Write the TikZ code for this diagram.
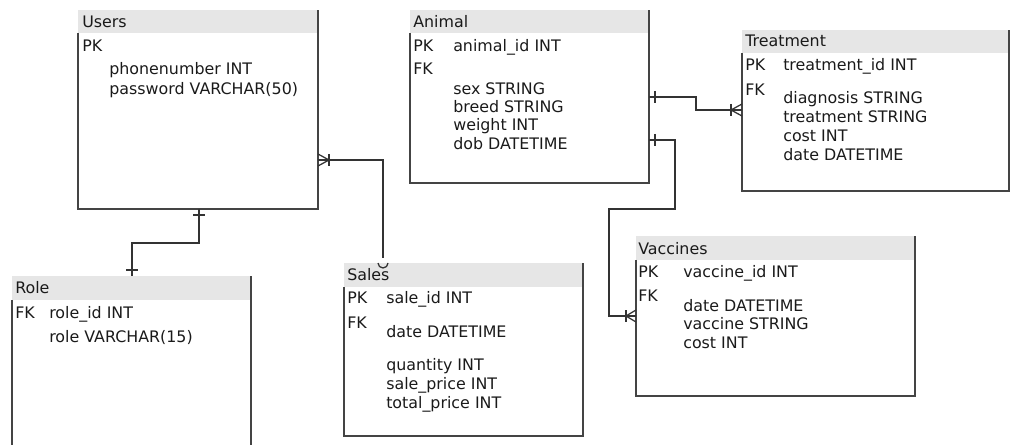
\documentclass[tikz,border=0pt]{standalone}
\usepackage{fontspec}
\setmainfont{DejaVu Sans}
\definecolor{hdrc}{HTML}{E6E6E6}
\definecolor{bordc}{HTML}{444444}
\definecolor{linec}{HTML}{333333}
\definecolor{textc}{HTML}{1A1A1A}
\newcommand\ERbox[5]{%
  \fill[hdrc] (#1,#2) rectangle (#3,#5);
  \draw[bordc,line width=1.1pt] (#1,#5) -- (#1,#4) -- (#3,#4) -- (#3,#2);
}
\tikzset{
  txt/.style={anchor=base west, inner sep=0pt, font=\fontsize{11.9}{14}\selectfont, text=textc},
  conn/.style={draw=linec, line width=0.95pt},
}
\begin{document}
\begin{tikzpicture}[x=0.75pt,y=-0.75pt]
\useasboundingbox (0,0) rectangle (1013,445);
\begin{scope}
\clip (0,0) rectangle (1013,445);
% boxes
\ERbox{78}{10}{318}{209}{33}
\ERbox{410}{10}{649}{183}{33}
\ERbox{742}{30}{1009}{191}{53}
\ERbox{12}{276}{251}{460}{300}
\ERbox{344}{263}{583}{436}{287}
\ERbox{636}{236}{915}{396}{260}
\end{scope}
% Users
\node[txt] (usersT) at (82,28) {Users};
\node[txt] (usersPK) at (82,52) {PK};
\node[txt] (usersF1) at (109,75) {phonenumber INT};
\node[txt] (usersF2) at (109,95) {password VARCHAR(50)};
% Animal
\node[txt] (animalT) at (413,28) {Animal};
\node[txt] (animalPK) at (413,52) {PK};
\node[txt] (animalF0) at (453,52) {animal\_id INT};
\node[txt] (animalFK) at (413,75) {FK};
\node[txt] (animalF1) at (453,95) {sex STRING};
\node[txt] (animalF2) at (453,113) {breed STRING};
\node[txt] (animalF3) at (453,131) {weight INT};
\node[txt] (animalF4) at (453,150) {dob DATETIME};
% Treatment
\node[txt] (treatT) at (745,47) {Treatment};
\node[txt] (treatPK) at (745,71) {PK};
\node[txt] (treatF0) at (783,71) {treatment\_id INT};
\node[txt] (treatFK) at (745,96) {FK};
\node[txt] (treatF1) at (783,104) {diagnosis STRING};
\node[txt] (treatF2) at (783,123) {treatment STRING};
\node[txt] (treatF3) at (783,142) {cost INT};
\node[txt] (treatF4) at (783,161) {date DATETIME};
% Role
\node[txt] (roleT) at (15,293) {Role};
\node[txt] (roleFK) at (15,318) {FK};
\node[txt] (roleF0) at (49,318) {role\_id INT};
\node[txt] (roleF1) at (49,342) {role VARCHAR(15)};
% Sales
\node[txt] (salesT) at (347,281) {Sales};
\node[txt] (salesPK) at (347,303) {PK};
\node[txt] (salesF0) at (386,303) {sale\_id INT};
\node[txt] (salesFK) at (347,328) {FK};
\node[txt] (salesF1) at (386,337) {date DATETIME};
\node[txt] (salesF2) at (386,370) {quantity INT};
\node[txt] (salesF3) at (386,389) {sale\_price INT};
\node[txt] (salesF4) at (386,408) {total\_price INT};
% Vaccines
\node[txt] (vacT) at (638,254) {Vaccines};
\node[txt] (vacPK) at (638,277) {PK};
\node[txt] (vacF0) at (683,277) {vaccine\_id INT};
\node[txt] (vacFK) at (638,301) {FK};
\node[txt] (vacF1) at (683,311) {date DATETIME};
\node[txt] (vacF2) at (683,329) {vaccine STRING};
\node[txt] (vacF3) at (683,348) {cost INT};
% connector endpoints
\coordinate (ub) at (199,209);
\coordinate (rt) at (132,276);
\coordinate (ur) at (318,160);
\coordinate (st) at (383,258);
\coordinate (ar1) at (649,97);
\coordinate (tl) at (742,110);
\coordinate (ar2) at (649,140);
\coordinate (vl) at (636,316);
% Users - Role
\draw[conn] (ub) -- (199,243) -| (rt);
\draw[conn] (193,215) -- (205,215);
\draw[conn] (126,270) -- (138,270);
% Users - Sales
\draw[conn] (ur) -| (st);
\draw[conn] (378,263) arc[start angle=180, end angle=0, radius=5];
\draw[conn] (318,154) -- (329,160) -- (318,166);
\draw[conn] (329,154) -- (329,166);
% Animal - Treatment
\draw[conn] (ar1) -- (696,97) |- (tl);
\draw[conn] (655,91) -- (655,103);
\draw[conn] (742,104) -- (731,110) -- (742,116);
\draw[conn] (731,104) -- (731,116);
% Animal - Vaccines
\draw[conn] (ar2) -- (675,140) -- (675,209) -- (609,209) |- (vl);
\draw[conn] (655,134) -- (655,146);
\draw[conn] (636,310) -- (626,316) -- (636,322);
\draw[conn] (626,310) -- (626,322);
\end{tikzpicture}
\end{document}
